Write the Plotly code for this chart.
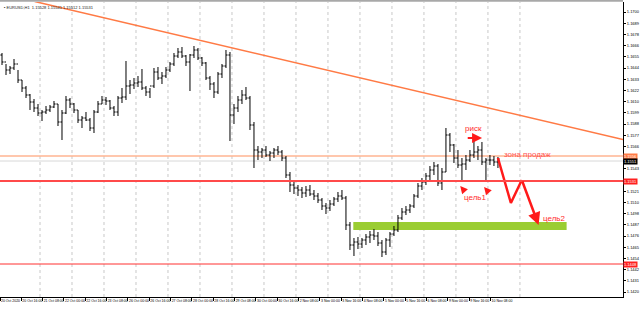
import plotly.graph_objects as go

# ---------------- data ----------------
title_text = "EURUSD,H1  1.15528 1.15541 1.15512 1.15531"
hours_per_bar = 3
first_open = 1.1657

high = [1.1659, 1.1648, 1.1646, 1.1653, 1.1642, 1.1632, 1.1626, 1.1618, 1.1613, 1.1608,
        1.1602, 1.1606, 1.1607, 1.1611, 1.1608, 1.1602, 1.1616, 1.1614, 1.1609, 1.1602,
        1.1596, 1.1600, 1.1594, 1.1602, 1.1611, 1.1616, 1.1615, 1.1612, 1.1606, 1.1616,
        1.1624, 1.1651, 1.1632, 1.1634, 1.1636, 1.1643, 1.1626, 1.1624, 1.1644, 1.1645,
        1.1640, 1.1645, 1.1650, 1.1659, 1.1664, 1.1665, 1.1657, 1.1658, 1.1666, 1.1664,
        1.1655, 1.1650, 1.1636, 1.1630, 1.1640, 1.1648, 1.1662, 1.1660, 1.1608, 1.1616,
        1.1622, 1.1625, 1.1616, 1.1590, 1.1566, 1.1564, 1.1566, 1.1561, 1.1564, 1.1566,
        1.1562, 1.1556, 1.1540, 1.1530, 1.1527, 1.1525, 1.1526, 1.1527, 1.1522, 1.1519,
        1.1514, 1.1509, 1.1512, 1.1515, 1.1520, 1.1522, 1.1516, 1.1490, 1.1474, 1.1475,
        1.1474, 1.1478, 1.1481, 1.1483, 1.1480, 1.1472, 1.1474, 1.1480, 1.1486, 1.1497,
        1.1504, 1.1506, 1.1508, 1.1518, 1.1529, 1.1534, 1.1539, 1.1546, 1.1550, 1.1548,
        1.1544, 1.1584, 1.1579, 1.1568, 1.1562, 1.1554, 1.1557, 1.1562, 1.1575, 1.1566,
        1.1570, 1.1554, 1.1557, 1.1556, 1.1555]

low = [1.1647, 1.1637, 1.1638, 1.1642, 1.1629, 1.1620, 1.1614, 1.1602, 1.1600, 1.1596,
       1.1591, 1.1598, 1.1600, 1.1604, 1.1586, 1.1572, 1.1598, 1.1604, 1.1599, 1.1589,
       1.1584, 1.1591, 1.1581, 1.1579, 1.1599, 1.1608, 1.1607, 1.1602, 1.1596, 1.1596,
       1.1609, 1.1612, 1.1618, 1.1623, 1.1625, 1.1622, 1.1616, 1.1614, 1.1624, 1.1632,
       1.1628, 1.1634, 1.1640, 1.1646, 1.1654, 1.1654, 1.1646, 1.1621, 1.1654, 1.1652,
       1.1646, 1.1632, 1.1622, 1.1614, 1.1618, 1.1634, 1.1644, 1.1571, 1.1588, 1.1600,
       1.1608, 1.1612, 1.1582, 1.1544, 1.1552, 1.1554, 1.1555, 1.1551, 1.1554, 1.1557,
       1.1551, 1.1534, 1.1520, 1.1518, 1.1516, 1.1514, 1.1515, 1.1516, 1.1512, 1.1509,
       1.1502, 1.1498, 1.1501, 1.1506, 1.1510, 1.1512, 1.1482, 1.1462, 1.1456, 1.1463,
       1.1464, 1.1467, 1.1469, 1.1472, 1.1466, 1.1455, 1.1457, 1.1465, 1.1476, 1.1480,
       1.1492, 1.1497, 1.1499, 1.1504, 1.1514, 1.1522, 1.1527, 1.1532, 1.1537, 1.1526,
       1.1522, 1.1540, 1.1560, 1.1549, 1.1544, 1.1531, 1.1542, 1.1550, 1.1554, 1.1552,
       1.1547, 1.1531, 1.1547, 1.1546, 1.1544]

close = [1.1650, 1.1642, 1.1644, 1.1648, 1.1632, 1.1624, 1.1617, 1.1610, 1.1604, 1.1599,
         1.1600, 1.1602, 1.1605, 1.1608, 1.1590, 1.1599, 1.1612, 1.1608, 1.1602, 1.1592,
         1.1594, 1.1592, 1.1584, 1.1600, 1.1608, 1.1612, 1.1611, 1.1604, 1.1600, 1.1614,
         1.1615, 1.1626, 1.1627, 1.1629, 1.1630, 1.1624, 1.1620, 1.1626, 1.1640, 1.1634,
         1.1636, 1.1642, 1.1648, 1.1656, 1.1660, 1.1656, 1.1650, 1.1657, 1.1662, 1.1654,
         1.1649, 1.1634, 1.1628, 1.1620, 1.1638, 1.1646, 1.1657, 1.1597, 1.1604, 1.1612,
         1.1617, 1.1614, 1.1587, 1.1562, 1.1560, 1.1562, 1.1557, 1.1559, 1.1562, 1.1560,
         1.1554, 1.1537, 1.1527, 1.1524, 1.1522, 1.1519, 1.1522, 1.1518, 1.1516, 1.1512,
         1.1506, 1.1504, 1.1508, 1.1513, 1.1516, 1.1514, 1.1487, 1.1467, 1.1470, 1.1468,
         1.1472, 1.1475, 1.1477, 1.1476, 1.1469, 1.1460, 1.1472, 1.1478, 1.1482, 1.1494,
         1.1500, 1.1502, 1.1506, 1.1516, 1.1526, 1.1530, 1.1536, 1.1542, 1.1546, 1.1529,
         1.1540, 1.1577, 1.1567, 1.1554, 1.1547, 1.1548, 1.1552, 1.1557, 1.1560, 1.1562,
         1.1550, 1.1552, 1.1552, 1.1550, 1.1553]

x_labels = ["20 Oct 2020", "20 Oct 16:00", "21 Oct 08:00", "22 Oct 00:00", "22 Oct 16:00",
            "23 Oct 08:00", "26 Oct 00:00", "26 Oct 16:00", "27 Oct 08:00", "28 Oct 00:00",
            "28 Oct 16:00", "29 Oct 08:00", "30 Oct 00:00", "30 Oct 16:00", "2 Nov 08:00",
            "3 Nov 00:00", "3 Nov 16:00", "4 Nov 08:00", "5 Nov 00:00", "5 Nov 16:00",
            "6 Nov 08:00", "9 Nov 00:00", "9 Nov 16:00", "10 Nov 08:00"]
label_step_hours = 16
day_hours = 24
first_grid_hour = 30
n_grid = 16

y_tick_top = 1.1700
y_tick_step = 0.00112
n_y_ticks = 26

support_main = 1.1531
support_low = 1.1448
sell_zone = 1.1556
bid = 1.1551

trend_h = [26.0, 467.3]
trend_p = [1.17105, 1.15725]

target_zone_h = [265, 425]
target_zone_p = [1.1482, 1.1490]

scenario_h = [373.5, 383.2, 391.4, 404.0]
scenario_p = [1.1554, 1.1509, 1.1532, 1.1487]

risk_h = [349.7, 361.6]
risk_p = 1.1574

target1_heads_h = [345.2, 363.1]
target1_heads_p = [1.1526, 1.1525]

x_range = [0, 467.3]
y_range = [1.1415, 1.1710]

# ---------------- figure ----------------
n = len(close)
xs = [hours_per_bar * i + hours_per_bar / 2 for i in range(n)]
opens = [first_open] + close[:-1]

fig = go.Figure()
fig.add_trace(go.Ohlc(
    x=xs, open=opens, high=high, low=low, close=close,
    increasing=dict(line=dict(color="black", width=1)),
    decreasing=dict(line=dict(color="black", width=1)),
    tickwidth=0.4, showlegend=False, hoverinfo="skip"))

fig.add_trace(go.Scatter(
    x=scenario_h[:3], y=scenario_p[:3], mode="lines",
    line=dict(color="#ff1a1a", width=2.5), showlegend=False, hoverinfo="skip"))

shapes = []
for k in range(n_grid):
    gx = first_grid_hour + day_hours * k
    shapes.append(dict(type="line", xref="x", yref="paper", x0=gx, x1=gx, y0=0, y1=1,
                       line=dict(color="#c8c8c8", width=1, dash="dot"), layer="below"))
shapes.append(dict(type="rect", xref="x", yref="y",
                   x0=target_zone_h[0], x1=target_zone_h[1],
                   y0=target_zone_p[0], y1=target_zone_p[1],
                   fillcolor="#9acd32", line=dict(width=0), layer="below"))
shapes.append(dict(type="line", xref="paper", yref="y", x0=0, x1=1, y0=bid, y1=bid,
                   line=dict(color="#d8d8d8", width=1), layer="below"))
shapes.append(dict(type="line", xref="paper", yref="y", x0=0, x1=1, y0=sell_zone, y1=sell_zone,
                   line=dict(color="#ffb592", width=1.5), layer="below"))
shapes.append(dict(type="line", xref="paper", yref="y", x0=0, x1=1, y0=support_main, y1=support_main,
                   line=dict(color="#ff4a4a", width=2)))
shapes.append(dict(type="line", xref="paper", yref="y", x0=0, x1=1, y0=support_low, y1=support_low,
                   line=dict(color="#ff3030", width=1)))
shapes.append(dict(type="line", xref="x", yref="y", x0=trend_h[0], x1=trend_h[1],
                   y0=trend_p[0], y1=trend_p[1],
                   line=dict(color="#ff7a45", width=1.5)))
shapes.append(dict(type="line", xref="paper", yref="paper", x0=0, x1=1, y0=1.004, y1=1.004,
                   line=dict(color="#a8a8a8", width=2)))

ann = []
def axis_box(val, bg):
    return dict(xref="paper", yref="y", x=1, y=val, xanchor="left", yanchor="middle",
                text=f"{val:.4f}", showarrow=False, bgcolor=bg, borderpad=0,
                font=dict(size=4, color="white", family="Liberation Sans"))
box_levels = [(support_main, "#ff2020"), (support_low, "#ff2020"),
              (sell_zone, "#ff7a45"), (bid, "#000000")]
for lv, bg in box_levels:
    ann.append(axis_box(lv, bg))

ann.append(dict(x=scenario_h[3], y=scenario_p[3], ax=scenario_h[2], ay=scenario_p[2],
                xref="x", yref="y", axref="x", ayref="y", text="", showarrow=True,
                arrowhead=2, arrowsize=1, arrowwidth=2.5, arrowcolor="#ff1a1a"))
ann.append(dict(x=risk_h[1], y=risk_p, ax=risk_h[0], ay=risk_p,
                xref="x", yref="y", axref="x", ayref="y", text="", showarrow=True,
                arrowhead=2, arrowsize=1, arrowwidth=2, arrowcolor="#ff1a1a"))
for hx, hp in zip(target1_heads_h, target1_heads_p):
    ann.append(dict(x=hx, y=hp, ax=5, ay=6, xref="x", yref="y", text="", showarrow=True,
                    arrowhead=2, arrowsize=1, arrowwidth=1.5, arrowcolor="#ff1a1a"))

red_font = dict(size=8, color="#ff2a2a", family="Liberation Sans")
ann.append(dict(x=355, y=1.1584, xref="x", yref="y", text="риск", showarrow=False,
                xanchor="center", yanchor="middle", font=red_font))
ann.append(dict(x=376.5, y=1.1558, xref="x", yref="y", text="зона продаж", showarrow=False,
                xanchor="left", yanchor="middle",
                font=dict(size=8, color="#ff5050", family="Liberation Sans")))
ann.append(dict(x=356.4, y=1.1515, xref="x", yref="y", text="цель1", showarrow=False,
                xanchor="center", yanchor="middle", font=red_font))
ann.append(dict(x=405.5, y=1.1494, xref="x", yref="y", text="цель2", showarrow=False,
                xanchor="left", yanchor="middle", font=red_font))
ann.append(dict(xref="paper", yref="paper", x=0.003, y=0.995, xanchor="left", yanchor="top",
                text="▪ " + title_text, showarrow=False,
                font=dict(size=4, color="#222222", family="Liberation Sans")))

# price-axis ticks; labels hidden behind the coloured level boxes are left out
y_tickvals = [y_tick_top - y_tick_step * k for k in range(n_y_ticks)]
y_tickvals = [v for v in y_tickvals
              if all(abs(v - lv) > 0.00045 for lv, _ in box_levels)]
y_ticktext = [f"{v:.4f}" for v in y_tickvals]
x_tickvals = [label_step_hours * k for k in range(len(x_labels))]

fig.update_layout(
    width=640, height=312,
    margin=dict(l=0, r=12, t=2, b=15),
    paper_bgcolor="white", plot_bgcolor="white",
    shapes=shapes, annotations=ann, showlegend=False,
    font=dict(family="Liberation Sans", size=4, color="black"),
    xaxis=dict(range=x_range, tickvals=x_tickvals, ticktext=x_labels, tickangle=0,
               ticklabelposition="outside right", ticks="outside", ticklen=3,
               tickcolor="black", showline=True, linecolor="black", linewidth=1,
               showgrid=False, zeroline=False, rangeslider=dict(visible=False),
               tickfont=dict(size=3.5, color="black"), fixedrange=True),
    yaxis=dict(range=y_range, side="right", tickvals=y_tickvals, ticktext=y_ticktext,
               ticks="outside", ticklen=2, tickcolor="black", showline=True,
               linecolor="black", linewidth=1, showgrid=False, zeroline=False,
               tickfont=dict(size=4, color="black"), fixedrange=True),
)

fig.write_html("out.html")
